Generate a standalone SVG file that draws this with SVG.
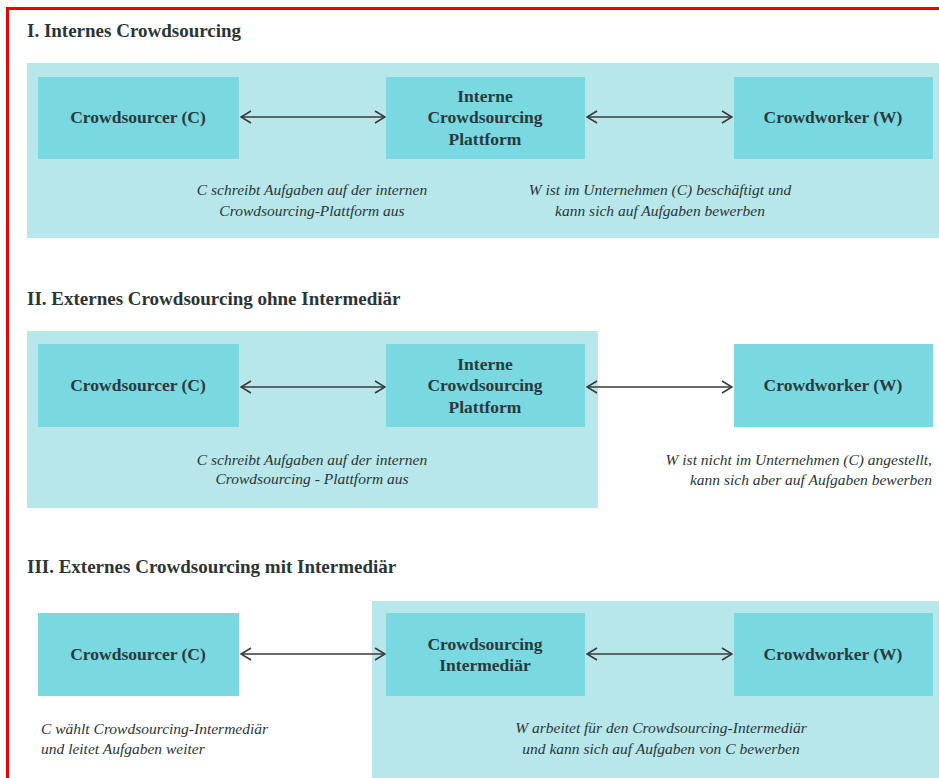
<svg xmlns="http://www.w3.org/2000/svg" width="939" height="778" viewBox="0 0 939 778">
<style>
.title{font-family:"Liberation Serif",serif;font-weight:bold;font-size:19px;fill:#2b3536}
.panel{fill:#b7e7eb}
.box{fill:#79d8e0}
.lbl{font-family:"Liberation Serif",serif;font-weight:bold;font-size:17.5px;fill:#2b3a3c;text-anchor:middle}
.cap{font-family:"Liberation Serif",serif;font-style:italic;font-size:15.5px;fill:#2b3536;text-anchor:middle}
.conn line{stroke:#3a3a3a;stroke-width:1.6;fill:none;marker-start:url(#head);marker-end:url(#head)}
</style>
<defs>
<marker id="head" viewBox="0 0 12 14" refX="11" refY="7" markerWidth="12" markerHeight="14" markerUnits="userSpaceOnUse" orient="auto-start-reverse">
<path d="M1,1 L11,7 L1,13" fill="none" stroke="#3a3a3a" stroke-width="1.6"/>
</marker>
</defs>
<rect x="0" y="0" width="939" height="778" fill="#ffffff"/>
<rect x="7.5" y="8.5" width="960" height="800" fill="none" stroke="#ee0000" stroke-width="3"/>

<!-- Section I -->
<text class="title" x="27" y="37">I. Internes Crowdsourcing</text>
<rect class="panel" x="27" y="63" width="912" height="175"/>
<g id="s1-crowdsourcer"><rect class="box" x="38" y="77" width="201" height="82"/><text class="lbl" x="138" y="123">Crowdsourcer (C)</text></g>
<g id="s1-plattform"><rect class="box" x="386" y="77" width="199" height="82"/><text class="lbl" x="485" y="102">Interne</text><text class="lbl" x="485" y="123">Crowdsourcing</text><text class="lbl" x="485" y="145">Plattform</text></g>
<g id="s1-crowdworker"><rect class="box" x="734" y="77" width="199" height="82"/><text class="lbl" x="833" y="123">Crowdworker (W)</text></g>
<text class="cap" x="312" y="195">C schreibt Aufgaben auf der internen</text>
<text class="cap" x="312" y="216">Crowdsourcing-Plattform aus</text>
<text class="cap" x="660" y="195">W ist im Unternehmen (C) beschäftigt und</text>
<text class="cap" x="660" y="216">kann sich auf Aufgaben bewerben</text>

<!-- Section II -->
<text class="title" x="27" y="305">II. Externes Crowdsourcing ohne Intermediär</text>
<rect class="panel" x="27" y="331" width="571" height="177"/>
<g id="s2-crowdsourcer"><rect class="box" x="38" y="344" width="201" height="83"/><text class="lbl" x="138" y="391">Crowdsourcer (C)</text></g>
<g id="s2-plattform"><rect class="box" x="386" y="344" width="199" height="83"/><text class="lbl" x="485" y="370">Interne</text><text class="lbl" x="485" y="391">Crowdsourcing</text><text class="lbl" x="485" y="413">Plattform</text></g>
<g id="s2-crowdworker"><rect class="box" x="734" y="344" width="199" height="83"/><text class="lbl" x="833" y="391">Crowdworker (W)</text></g>
<text class="cap" x="312" y="465">C schreibt Aufgaben auf der internen</text>
<text class="cap" x="312" y="484">Crowdsourcing - Plattform aus</text>
<text class="cap" x="932" y="465" style="text-anchor:end">W ist nicht im Unternehmen (C) angestellt,</text>
<text class="cap" x="932" y="485" style="text-anchor:end">kann sich aber auf Aufgaben bewerben</text>

<!-- Section III -->
<text class="title" x="27" y="573">III. Externes Crowdsourcing mit Intermediär</text>
<rect class="panel" x="372" y="601" width="567" height="177"/>
<g id="s3-crowdsourcer"><rect class="box" x="38" y="613" width="201" height="83"/><text class="lbl" x="138" y="660">Crowdsourcer (C)</text></g>
<g id="s3-intermediaer"><rect class="box" x="386" y="613" width="199" height="83"/><text class="lbl" x="485" y="650">Crowdsourcing</text><text class="lbl" x="485" y="671">Intermediär</text></g>
<g id="s3-crowdworker"><rect class="box" x="734" y="613" width="199" height="83"/><text class="lbl" x="833" y="660">Crowdworker (W)</text></g>
<text class="cap" x="41" y="734" style="text-anchor:start">C wählt Crowdsourcing-Intermediär</text>
<text class="cap" x="41" y="754" style="text-anchor:start">und leitet Aufgaben weiter</text>
<text class="cap" x="661" y="733">W arbeitet für den Crowdsourcing-Intermediär</text>
<text class="cap" x="661" y="754">und kann sich auf Aufgaben von C bewerben</text>

<g id="connectors" class="conn">
<line x1="241" y1="117" x2="385" y2="117"/>
<line x1="587" y1="117" x2="732" y2="117"/>
<line x1="241" y1="387" x2="385" y2="387"/>
<line x1="587" y1="387" x2="732" y2="387"/>
<line x1="241" y1="654" x2="385" y2="654"/>
<line x1="587" y1="654" x2="732" y2="654"/>
</g>
</svg>
